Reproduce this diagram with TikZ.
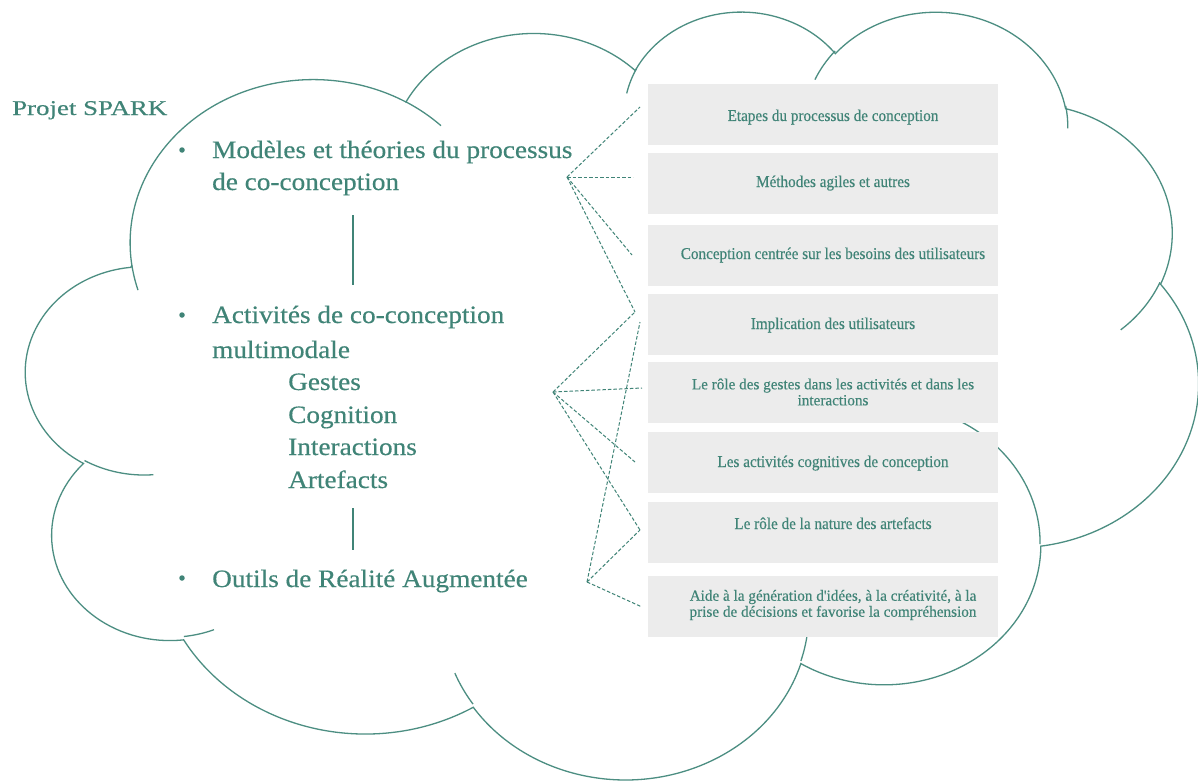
\documentclass[tikz,border=0pt]{standalone}
\usepackage{fontspec}
\setmainfont{Liberation Serif}
\newfontfamily\mainf[FakeStretch=1.09,FakeBold=0.4]{Liberation Serif}
\newfontfamily\sparkf[FakeStretch=1.28,FakeBold=0.4]{Liberation Serif}
\newfontfamily\boxf[FakeStretch=0.92,FakeBold=0.4]{Liberation Serif}
\newfontfamily\boxtwof[FakeStretch=0.98,FakeBold=0.4]{Liberation Serif}
\newcommand\mytightlines{\lineskiplimit=-100pt\relax\lineskip=0pt\relax}
\definecolor{tealtxt}{RGB}{64,132,119}
\definecolor{cloudc}{RGB}{76,142,130}
\definecolor{boxg}{RGB}{236,236,236}
\begin{document}
\begin{tikzpicture}[x=1pt,y=-1pt,
  cloudline/.style={draw=cloudc,line width=1.3pt},
  conn/.style={draw=tealtxt,line width=1pt,dash pattern=on 3.5pt off 2pt},
  link/.style={draw=tealtxt,line width=1.2pt},
  boxnode/.style={fill=boxg,minimum width=350pt,minimum height=61pt,inner sep=0pt,draw=none},
  boxtext/.style={text=tealtxt,font=\boxf\fontsize{16.5}{14}\selectfont,anchor=base,inner sep=0pt,align=center},
  boxtwo/.style={text=tealtxt,font=\boxtwof\fontsize{15.5}{16}\selectfont\mytightlines,anchor=center,inner sep=0pt,align=center},
  maintext/.style={text=tealtxt,font=\mainf\fontsize{25}{32}\selectfont,anchor=base west,inner sep=0pt},
  bulletdot/.style={circle,fill=tealtxt,inner sep=0pt,minimum size=5.5pt}
]
\fill[white] (0,0) rectangle (1198,781);
\useasboundingbox (0,0) rectangle (1198,781);

% cloud outline
\draw[cloudline,fill=white] (131.8,264.9)
 arc[start angle=-172.25, end angle=-300.37, x radius=183.2pt, y radius=163.3pt]
 arc[start angle=152.02, end angle=45.45, x radius=144.7pt, y radius=129.1pt]
 arc[start angle=153.49, end angle=37.32, x radius=118.4pt, y radius=105.6pt]
 arc[start angle=139.72, end angle=10.22, x radius=131.8pt, y radius=117.2pt]
 arc[start angle=74.77, end angle=-23.21, x radius=144.7pt, y radius=129.2pt]
 arc[start angle=37.53, end angle=-81.86, x radius=183.8pt, y radius=163.8pt]
 arc[start angle=-0.46, end angle=-121.98, x radius=156.9pt, y radius=139.8pt]
 arc[start angle=-16.84, end angle=-146.21, x radius=183.2pt, y radius=163.8pt]
 arc[start angle=-58.98, end angle=-150.19, x radius=209.4pt, y radius=187.3pt]
 arc[start angle=-83.31, end angle=-223.11, x radius=118.3pt, y radius=105.2pt]
 arc[start angle=-120.35, end angle=-264.11, x radius=117.9pt, y radius=105.6pt]
 -- cycle;
% inner cloud arcs
\draw[cloudline] (153.3,474.7) arc[start angle=-85.54, end angle=-120.35, x radius=117.9pt, y radius=105.6pt];
\draw[cloudline] (214.0,629.7) arc[start angle=-68.23, end angle=-83.31, x radius=118.3pt, y radius=105.2pt];
\draw[cloudline] (473.0,704.1) arc[start angle=-146.21, end angle=-158.47, x radius=183.2pt, y radius=163.8pt];
\draw[cloudline] (808.1,627.0) arc[start angle=-4.73, end angle=-16.84, x radius=183.2pt, y radius=163.8pt];
\draw[cloudline] (951.9,417.4) arc[start angle=64.03, end angle=-0.46, x radius=156.9pt, y radius=139.8pt];
\draw[cloudline] (1160.0,282.3) arc[start angle=-23.21, end angle=-49.64, x radius=144.7pt, y radius=129.2pt];
\draw[cloudline] (1065.7,105.9) arc[start angle=10.21, end angle=-0.82, x radius=131.8pt, y radius=117.2pt];
\draw[cloudline] (814.9,79.7) arc[start angle=156.30, end angle=139.72, x radius=131.8pt, y radius=117.2pt];
\draw[cloudline] (626.7,93.4) arc[start angle=167.72, end angle=153.49, x radius=118.4pt, y radius=105.6pt];
\draw[cloudline] (405.8,101.8) arc[start angle=59.63, end angle=45.75, x radius=183.2pt, y radius=163.3pt];
\draw[cloudline] (138.0,290.1) arc[start angle=-163.19, end angle=-172.25, x radius=183.2pt, y radius=163.3pt];

% boxes
\node[boxnode] (b1) at (823,114.5) {};
\node[boxnode] (b2) at (823,183) {};
\node[boxnode] (b3) at (823,255.5) {};
\node[boxnode] (b4) at (823,324) {};
\node[boxnode] (b5) at (823,392.5) {};
\node[boxnode] (b6) at (823,462.5) {};
\node[boxnode] (b7) at (823,532.5) {};
\node[boxnode] (b8) at (823,606) {};

\node[boxtext] (t1) at (833,121) {Etapes du processus de conception};
\node[boxtext] (t2) at (833,187) {Méthodes agiles et autres};
\node[boxtext] (t3) at (833,259) {Conception centrée sur les besoins des utilisateurs};
\node[boxtext] (t4) at (833,329) {Implication des utilisateurs};
\node[boxtwo] (t5) at (833,392) {Le rôle des gestes dans les activités et dans les\\interactions};
\node[boxtext] (t6) at (833,467) {Les activités cognitives de conception};
\node[boxtext] (t7) at (833,529) {Le rôle de la nature des artefacts};
\node[boxtwo] (t8) at (833,605) {Aide à la génération d'idées, à la créativité, à la\\prise de décisions et favorise la compréhension};

% left texts
\node[text=tealtxt,font=\sparkf\fontsize{21}{24}\selectfont,anchor=base west,inner sep=0pt] (spark) at (12,115) {Projet SPARK};
\node[bulletdot] (d1) at (182,150) {};
\node[bulletdot] (d2) at (182,315) {};
\node[bulletdot] (d3) at (182,578) {};
\node[maintext] (m1a) at (212,158) {Modèles et théories du processus};
\node[maintext] (m1b) at (212,190) {de co-conception};
\node[maintext] (m2a) at (212,323) {Activités de co-conception};
\node[maintext] (m2b) at (212,358) {multimodale};
\node[maintext] (g1) at (288,390) {Gestes};
\node[maintext] (g2) at (288,423) {Cognition};
\node[maintext] (g3) at (288,455) {Interactions};
\node[maintext] (g4) at (288,488) {Artefacts};
\node[maintext] (m3) at (212,587) {Outils de Réalité Augmentée};

% vertical links
\coordinate (v1a) at (353,215);
\coordinate (v1b) at (353,285);
\coordinate (v2a) at (353,508);
\coordinate (v2b) at (353,550);
\draw[link] (v1a) -- (v1b);
\draw[link] (v2a) -- (v2b);

% dashed connectors
\coordinate (s1) at (567,177);
\coordinate (s2) at (553,392);
\coordinate (s3) at (587,582);
\coordinate (e1) at (640,107);
\coordinate (e2) at (633,177);
\coordinate (e3) at (632,255);
\coordinate (e4) at (635,312);
\coordinate (e5) at (642,388);
\coordinate (e6) at (635,462);
\coordinate (e7) at (640,530);
\coordinate (e8) at (640,322);
\coordinate (e9) at (642,607);
\draw[conn] (s1) -- (e1);
\draw[conn] (s1) -- (e2);
\draw[conn] (s1) -- (e3);
\draw[conn] (s1) -- (e4);
\draw[conn] (s2) -- (e4);
\draw[conn] (s2) -- (e5);
\draw[conn] (s2) -- (e6);
\draw[conn] (s2) -- (e7);
\draw[conn] (s3) -- (e8);
\draw[conn] (s3) -- (e7);
\draw[conn] (s3) -- (e9);
\end{tikzpicture}
\end{document}
